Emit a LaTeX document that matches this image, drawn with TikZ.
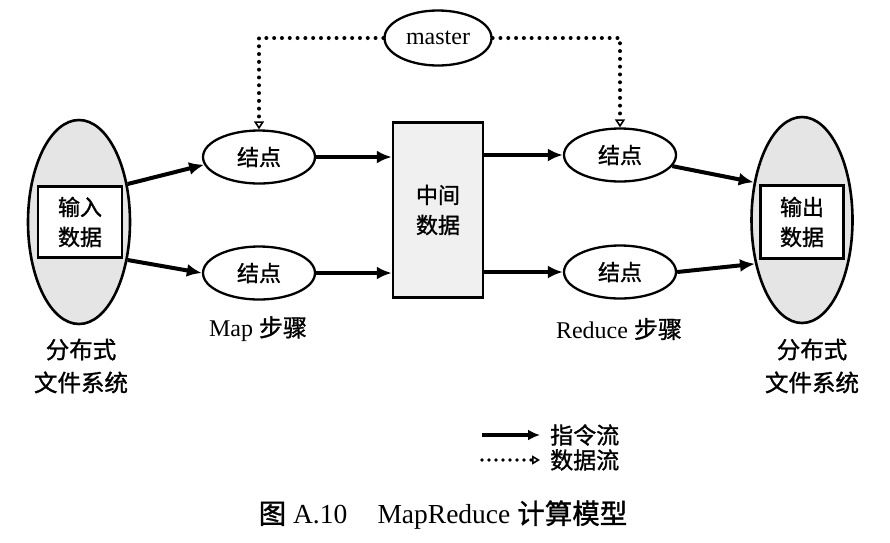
\documentclass[tikz,border=0pt]{standalone}
\usepackage{fontspec}
\setmainfont{Liberation Serif}
\newfontfamily\cjk[FakeBold=1.2]{Noto Sans CJK SC}
\usetikzlibrary{shapes.geometric,arrows.meta}
\tikzset{
  store/.style={ellipse,draw,line width=2.6pt,fill=black!10,inner sep=0pt},
  worker/.style={ellipse,draw,line width=2.3pt,fill=white,minimum width=112pt,minimum height=53pt,inner sep=0pt,font=\fontsize{22}{24}\selectfont\cjk},
  databox/.style={rectangle,draw,line width=2.5pt,fill=white,inner sep=0pt,align=center,font=\fontsize{22}{30}\selectfont\cjk},
  lbl/.style={inner sep=0pt,align=center,font=\fontsize{24}{33}\selectfont},
  flow/.style={line width=4pt,-{Latex[length=15pt,width=13pt]}},
  ctrl/.style={line width=4pt,line cap=round,dash pattern=on 0pt off 7.8pt,-{Triangle[open,length=8pt,width=10pt,line width=1.6pt]}}
}
\begin{document}
\begin{tikzpicture}[x=1pt,y=-1pt]
\useasboundingbox (0,0) rectangle (890,542);
% storage ellipses
\node[store,minimum width=102pt,minimum height=204pt] (lfs) at (79,222) {};
\node[databox,minimum width=84pt,minimum height=71pt] (lin) at (80,222) {输入\\数据};
\node[store,minimum width=101pt,minimum height=206pt] (rfs) at (802,220) {};
\node[databox,minimum width=83pt,minimum height=73pt] (rout) at (802,222) {输出\\数据};
% master
\node[ellipse,draw,line width=2.3pt,minimum width=107pt,minimum height=55pt,inner sep=0pt,font=\fontsize{24}{26}\selectfont] (master) at (438,38) {master};
% workers
\node[worker] (m1) at (259,157) {结点};
\node[worker] (m2) at (259,273) {结点};
\node[worker] (r1) at (620,155) {结点};
\node[worker] (r2) at (620,272) {结点};
% intermediate data
\node[databox,fill=black!6,minimum width=90pt,minimum height=175pt] (mid) at (438,210) {中间\\数据};
% flows
\draw[flow] (lfs.38) -- (m1.188);
\draw[flow] (lfs.-38) -- (m2.west);
\draw[flow] (m1.east) -- (mid.west |- m1.east);
\draw[flow] (m2.east) -- (mid.west |- m2.east);
\draw[flow] (mid.east |- r1.west) -- (r1.west);
\draw[flow] (mid.east |- r2.west) -- (r2.west);
\draw[flow] (r1.-12) -- (rfs.142);
\draw[flow] (r2.east) -- (rfs.223);
% control
\draw[ctrl] (master.west) -| (m1.north);
\draw[ctrl] (master.east) -| (r1.north);
% labels
\node[lbl] (maplbl) at (258,329) {Map {\cjk 步骤}};
\node[lbl] (redlbl) at (619,329) {Reduce {\cjk 步骤}};
\node[lbl,font=\fontsize{23.5}{33}\selectfont\cjk] (lfslbl) at (81,366) {分布式\\文件系统};
\node[lbl,font=\fontsize{23.5}{33}\selectfont\cjk] (rfslbl) at (812,366) {分布式\\文件系统};
% legend
\coordinate (l1a) at (482,435);
\coordinate (l2a) at (482,460);
\node[lbl,anchor=west,font=\fontsize{23}{24}\selectfont\cjk] (leg1) at (550,435) {指令流};
\node[lbl,anchor=west,font=\fontsize{23}{24}\selectfont\cjk] (leg2) at (550,460) {数据流};
\draw[line width=3.6pt,-{Latex[length=12pt,width=11pt]}] (l1a) -- ([xshift=-10pt]leg1.west);
\draw[line width=3.6pt,line cap=round,dash pattern=on 0pt off 7pt,-{Triangle[open,length=8pt,width=9pt,line width=1.6pt]}] (l2a) -- ([xshift=-10pt]leg2.west);
% caption
\node[lbl,font=\fontsize{27.5}{30}\selectfont] (cap) at (443,515) {{\cjk 图} A.10\hspace{1.1em}MapReduce {\cjk 计算模型}};
\end{tikzpicture}
\end{document}
